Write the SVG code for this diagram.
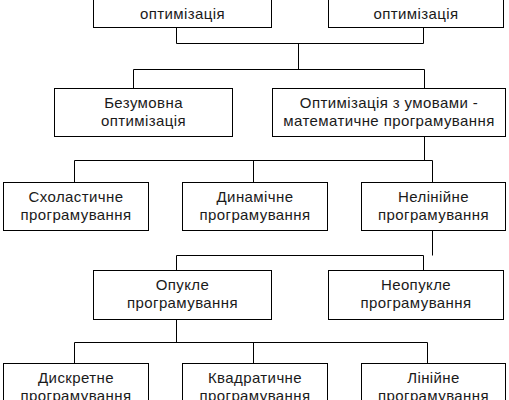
<svg xmlns="http://www.w3.org/2000/svg" width="509" height="400" viewBox="0 0 509 400">
<style>
rect{fill:#fff;stroke:#000;stroke-width:1}
.c path{fill:none;stroke:#000;stroke-width:1}
text{font-family:"Liberation Sans",Arial,sans-serif;font-size:15px;fill:#1a1a1a;text-anchor:middle;letter-spacing:0.4px}
</style>
<rect x="0" y="0" width="509" height="400" style="stroke:none"/>
<g class="c" id="connectors">
<path d="M176.5 27.5V43.5H423.5V27.5M298.5 43.5V69.5M133.5 88.5V69.5H424.5V88.5"/>
<path d="M424.5 136.5V160.5M74.5 182.5V160.5H432.5V182.5M253.5 160.5V182.5"/>
<path d="M432.5 230.5V255.5M176.5 270.5V255.5H423.5V270.5"/>
<path d="M176.5 319.5V342.5M74.5 363.5V342.5H427.5V363.5M253.5 342.5V363.5"/>
</g>
<g id="n1"><rect x="93.5" y="-20.5" width="178" height="48"/><text x="182.5" y="18.5">оптимізація</text></g>
<g id="n2"><rect x="328.5" y="-20.5" width="175" height="48"/><text x="416" y="18.5">оптимізація</text></g>
<g id="n3"><rect x="54.5" y="88.5" width="178" height="48"/><text x="143.5" y="108">Безумовна</text><text x="143.5" y="125.5">оптимізація</text></g>
<g id="n4"><rect x="272.5" y="88.5" width="233" height="48"/><text x="389" y="108">Оптимізація з умовами -</text><text x="389" y="125.5">математичне програмування</text></g>
<g id="n5"><rect x="3.5" y="182.5" width="145" height="48"/><text x="76" y="202">Схоластичне</text><text x="76" y="219.5">програмування</text></g>
<g id="n6"><rect x="182.5" y="182.5" width="145" height="48"/><text x="255" y="202">Динамічне</text><text x="255" y="219.5">програмування</text></g>
<g id="n7"><rect x="361.5" y="182.5" width="144" height="48"/><text x="433.5" y="202">Нелінійне</text><text x="433.5" y="219.5">програмування</text></g>
<g id="n8"><rect x="93.5" y="270.5" width="178" height="49"/><text x="182.5" y="290">Опукле</text><text x="182.5" y="307.5">програмування</text></g>
<g id="n9"><rect x="328.5" y="270.5" width="175" height="49"/><text x="416" y="290">Неопукле</text><text x="416" y="307.5">програмування</text></g>
<g id="n10"><rect x="3.5" y="363.5" width="145" height="48"/><text x="76" y="383">Дискретне</text><text x="76" y="400.5">програмування</text></g>
<g id="n11"><rect x="182.5" y="363.5" width="145" height="48"/><text x="255" y="383">Квадратичне</text><text x="255" y="400.5">програмування</text></g>
<g id="n12"><rect x="361.5" y="363.5" width="144" height="48"/><text x="433.5" y="383">Лінійне</text><text x="433.5" y="400.5">програмування</text></g>
</svg>
